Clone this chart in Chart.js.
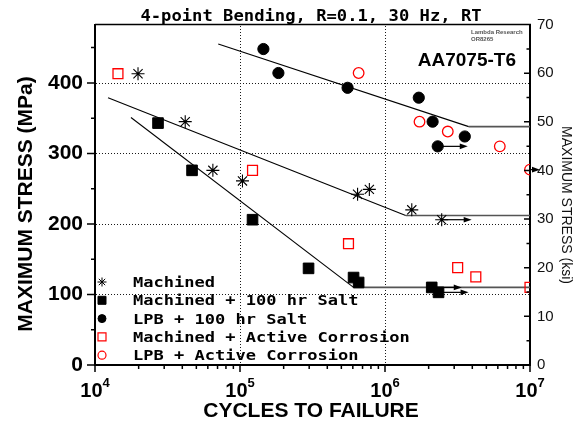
<!DOCTYPE html>
<html>
<head>
<meta charset="utf-8">
<script src="https://cdn.jsdelivr.net/npm/chart.js@4.4.1/dist/chart.umd.min.js"></script>
<style>
  html, body { margin: 0; padding: 0; background: #fff; }
</style>
</head>
<body>
<canvas id="chart" width="579" height="422"></canvas>
<script>
// cycles to failure (N) and max stress (MPa)
const machinedN = [1.98e4, 4.19e4, 6.5e4, 1.04e5, 6.47e5, 7.8e5, 1.53e6, 2.46e6];
const machinedS = [413, 345, 276, 261, 242, 249, 220, 206];
const machinedRunout = [0, 0, 0, 0, 0, 0, 0, 1];

const saltN = [2.72e4, 4.67e4, 1.22e5, 2.97e5, 6.07e5, 6.58e5, 2.1e6, 2.34e6];
const saltS = [343, 276, 206, 137, 124, 117, 110, 103];
const saltRunout = [0, 0, 0, 0, 0, 0, 1, 1];

const lpbSaltN = [1.45e5, 1.84e5, 5.52e5, 1.71e6, 2.13e6, 3.55e6, 2.31e6];
const lpbSaltS = [448, 414, 393, 379, 345, 324, 310];
const lpbSaltRunout = [0, 0, 0, 0, 0, 0, 1];

const corrN = [1.44e4, 1.22e5, 5.6e5, 3.17e6, 4.23e6, 1.0e7];
const corrS = [413, 276, 172, 138, 125, 110];

const lpbCorrN = [6.58e5, 1.73e6, 2.71e6, 6.19e6, 1.0e7];
const lpbCorrS = [414, 345, 331, 310, 277];
const lpbCorrRunout = [0, 0, 0, 0, 1];

// fitted trend lines (knee then flat endurance limit)
const lpbFitN = [7.08e4, 3.78e6, 1e7];
const lpbFitS = [455, 338, 338];
const machFitN = [1.23e4, 1.39e6, 1e7];
const machFitS = [379, 212, 212];
const saltFitN = [1.77e4, 6.07e5, 1e7];
const saltFitS = [351, 110, 110];

const xTickExp = [4, 5, 6, 7];
const gridMPa = [100, 200, 300, 400];
const gridN = [1e5, 1e6];
const ksiMax = 70;
const mpaMax = ksiMax * 6.894757;

const legendLabels = ['Machined', 'Machined + 100 hr Salt', 'LPB + 100 hr Salt',
  'Machined + Active Corrosion', 'LPB + Active Corrosion'];

function pts(xs, ys) {
  return xs.map((x, i) => ({ x: x, y: ys[i] }));
}

const RED = '#ff0000';
const sans = "'Liberation Sans', Arial, sans-serif";
const mono = "'DejaVu Sans Mono', monospace";

function drawMarker(ctx, style, r, fill, stroke, lw, x, y) {
  ctx.save();
  ctx.lineWidth = lw;
  ctx.strokeStyle = stroke;
  ctx.fillStyle = fill;
  ctx.setLineDash([]);
  ctx.beginPath();
  if (style === 'star') {
    for (let a = 0; a < 4; a++) {
      const t = a * Math.PI / 4;
      ctx.moveTo(x - r * Math.cos(t), y - r * Math.sin(t));
      ctx.lineTo(x + r * Math.cos(t), y + r * Math.sin(t));
    }
    ctx.stroke();
  } else if (style === 'rect') {
    ctx.rect(x - r, y - r, 2 * r, 2 * r);
    if (fill !== 'transparent') ctx.fill();
    ctx.stroke();
  } else {
    ctx.arc(x, y, r, 0, Math.PI * 2);
    if (fill !== 'transparent') ctx.fill();
    ctx.stroke();
  }
  ctx.restore();
}

function stretchText(ctx, text, x, y, font, sx) {
  ctx.save();
  ctx.font = font;
  ctx.translate(x, y);
  ctx.scale(sx, 1);
  ctx.fillText(text, 0, 0);
  ctx.restore();
}

const decor = {
  id: 'decor',
  beforeDatasetsDraw(chart) {
    const { ctx, chartArea: a, scales } = chart;
    ctx.save();
    // dotted grid, one pixel dots every 3 px
    ctx.fillStyle = '#1a1a1a';
    gridMPa.forEach(v => {
      const y = Math.round(scales.y.getPixelForValue(v));
      for (let x = Math.ceil(a.left) + 1; x < a.right - 1; x += 3) ctx.fillRect(x, y, 1, 1);
    });
    gridN.forEach(v => {
      const x = Math.round(scales.x.getPixelForValue(v));
      for (let y = Math.ceil(a.top) + 1; y < a.bottom - 1; y += 3) ctx.fillRect(x, y, 1, 1);
    });
    ctx.restore();
  },
  afterDatasetsDraw(chart) {
    const { ctx, chartArea: a } = chart;
    ctx.save();
    ctx.strokeStyle = '#000';
    ctx.fillStyle = '#000';
    ctx.lineWidth = 1.2;
    chart.data.datasets.forEach((ds, i) => {
      if (!ds.runout) return;
      const meta = chart.getDatasetMeta(i);
      ds.runout.forEach((f, j) => {
        if (!f) return;
        const el = meta.data[j];
        const x0 = el.x, y0 = el.y;
        const x1 = Math.min(x0 + 30, a.right + 10);
        ctx.beginPath();
        ctx.moveTo(x0, y0); ctx.lineTo(x1 - 5, y0);
        ctx.stroke();
        ctx.beginPath();
        ctx.moveTo(x1, y0); ctx.lineTo(x1 - 8, y0 - 2.8); ctx.lineTo(x1 - 8, y0 + 2.8);
        ctx.closePath();
        ctx.fill();
      });
    });
    ctx.restore();
  },
  afterDraw(chart) {
    const { ctx, chartArea: a, scales } = chart;
    const xs = scales.x, ys = scales.y, y2 = scales.y2;
    ctx.save();
    // top frame line
    ctx.strokeStyle = '#000';
    ctx.lineWidth = 1.5;
    ctx.beginPath();
    ctx.moveTo(a.left, a.top); ctx.lineTo(a.right + 1, a.top);
    ctx.stroke();

    // tick marks
    ctx.lineWidth = 1.5;
    ctx.beginPath();
    for (let v = 0; v <= 450; v += 50) {
      const y = ys.getPixelForValue(v);
      const len = v % 100 === 0 ? 8 : 4;
      ctx.moveTo(a.left - len, y); ctx.lineTo(a.left, y);
    }
    for (let v = 5; v < ksiMax; v += 5) {
      const y = y2.getPixelForValue(v);
      const len = v % 10 === 0 ? 6 : 3.5;
      ctx.moveTo(a.right - len, y); ctx.lineTo(a.right, y);
    }
    xTickExp.forEach(e => {
      for (let m = 1; m <= 9; m++) {
        const v = m * Math.pow(10, e);
        if (v > xs.max) break;
        const x = xs.getPixelForValue(v);
        const len = m === 1 ? 7 : 4;
        ctx.moveTo(x, a.bottom); ctx.lineTo(x, a.bottom + len);
      }
    });
    ctx.stroke();

    // x tick labels 10^n
    ctx.fillStyle = '#000';
    ctx.textBaseline = 'alphabetic';
    ctx.textAlign = 'left';
    xTickExp.forEach(e => {
      const x = xs.getPixelForValue(Math.pow(10, e));
      ctx.font = 'bold 20px ' + sans;
      const w1 = ctx.measureText('10').width;
      ctx.font = 'bold 13px ' + sans;
      const w2 = ctx.measureText(String(e)).width;
      const sx = x - (w1 + w2) / 2;
      ctx.font = 'bold 20px ' + sans;
      ctx.fillText('10', sx, 397);
      ctx.font = 'bold 13px ' + sans;
      ctx.fillText(String(e), sx + w1, 387);
    });

    // axis titles
    ctx.textAlign = 'center';
    ctx.textBaseline = 'middle';
    ctx.font = 'bold 21px ' + sans;
    ctx.fillText('CYCLES TO FAILURE', 311, 411);
    ctx.save();
    ctx.translate(26, 204);
    ctx.rotate(-Math.PI / 2);
    ctx.fillText('MAXIMUM STRESS (MPa)', 0, 0);
    ctx.restore();
    ctx.save();
    ctx.fillStyle = '#111';
    ctx.font = '14px ' + sans;
    ctx.translate(566, 205);
    ctx.rotate(Math.PI / 2);
    ctx.fillText('MAXIMUM STRESS (ksi)', 0, 0);
    ctx.restore();

    // title
    ctx.textAlign = 'left';
    ctx.textBaseline = 'alphabetic';
    ctx.fillStyle = '#000';
    const tFont = 'bold 15px ' + mono;
    ctx.font = tFont;
    const title = '4-point Bending, R=0.1, 30 Hz, RT';
    const tsx = 1.145;
    const tw = ctx.measureText(title).width * tsx;
    stretchText(ctx, title, 311 - tw / 2, 21, tFont, tsx);

    // material label and lab note
    ctx.textAlign = 'right';
    ctx.font = 'bold 19px ' + sans;
    ctx.fillText('AA7075-T6', 516, 66);
    ctx.textAlign = 'left';
    ctx.fillStyle = '#555';
    ctx.font = 'bold 6px ' + sans;
    ctx.fillText('Lambda Research', 471, 34);
    ctx.fillText('OR8265', 471, 41);

    // legend
    ctx.fillStyle = '#000';
    const lFont = 'bold 14px ' + mono;
    const markerStyles = [
      ['star', 4.5, '#000', '#000', 1],
      ['rect', 4, '#000', '#000', 1],
      ['circle', 4, '#000', '#000', 1],
      ['rect', 4, 'transparent', RED, 1.2],
      ['circle', 4, 'transparent', RED, 1.2]
    ];
    legendLabels.forEach((lab, i) => {
      const base = 287 + i * 18.3;
      const m = markerStyles[i];
      drawMarker(ctx, m[0], m[1], m[2], m[3], m[4], 102, base - 5);
      stretchText(ctx, lab, 133, base, lFont, 1.216);
    });
    ctx.restore();
  }
};

const fitSegment = {
  borderColor: c => c.p0.parsed.y === c.p1.parsed.y ? '#555' : '#000',
  borderWidth: c => c.p0.parsed.y === c.p1.parsed.y ? 1.6 : 1.1
};

function fitLine(xs, ys) {
  return {
    data: pts(xs, ys), showLine: true, pointRadius: 0, borderColor: '#000',
    borderWidth: 1.1, segment: fitSegment, order: 10
  };
}

new Chart(document.getElementById('chart'), {
  type: 'scatter',
  data: {
    datasets: [
      fitLine(lpbFitN, lpbFitS),
      fitLine(machFitN, machFitS),
      fitLine(saltFitN, saltFitS),
      { label: legendLabels[0], data: pts(machinedN, machinedS), runout: machinedRunout,
        pointStyle: 'star', pointRadius: 6.5, borderColor: '#000', backgroundColor: '#000', borderWidth: 1.1 },
      { label: legendLabels[1], data: pts(saltN, saltS), runout: saltRunout,
        pointStyle: 'rect', pointRadius: 7.5, borderColor: '#000', backgroundColor: '#000', borderWidth: 1 },
      { label: legendLabels[2], data: pts(lpbSaltN, lpbSaltS), runout: lpbSaltRunout,
        pointStyle: 'circle', pointRadius: 5.6, borderColor: '#000', backgroundColor: '#000', borderWidth: 1 },
      { label: legendLabels[3], data: pts(corrN, corrS),
        pointStyle: 'rect', pointRadius: 7, borderColor: RED, backgroundColor: 'transparent', borderWidth: 1.3 },
      { label: legendLabels[4], data: pts(lpbCorrN, lpbCorrS), runout: lpbCorrRunout,
        pointStyle: 'circle', pointRadius: 5.3, borderColor: RED, backgroundColor: 'transparent', borderWidth: 1.3 }
    ]
  },
  options: {
    responsive: false,
    animation: false,
    layout: { padding: { top: 24, left: 0, right: 0, bottom: 0 } },
    plugins: { legend: { display: false }, tooltip: { enabled: false } },
    scales: {
      x: {
        type: 'logarithmic', position: 'bottom', min: 1e4, max: 1e7,
        grid: { display: false, drawTicks: false },
        ticks: { display: false },
        border: { display: true, width: 2, color: '#000' },
        afterFit(s) { s.height = 57; }
      },
      y: {
        type: 'linear', position: 'left', min: 0, max: mpaMax,
        grid: { display: false, drawTicks: false },
        ticks: {
          stepSize: 50, autoSkip: false, padding: 12, color: '#000',
          font: { family: 'Liberation Sans', weight: 'bold', size: 21 },
          callback: v => (v % 100 === 0 ? String(v) : '')
        },
        border: { display: true, width: 2, color: '#000' },
        afterFit(s) { s.width = 95; }
      },
      y2: {
        type: 'linear', position: 'right', min: 0, max: ksiMax,
        grid: { display: false, drawTicks: false },
        ticks: {
          stepSize: 10, autoSkip: false, padding: 7, color: '#111',
          font: { family: 'Liberation Sans', size: 15 }
        },
        border: { display: true, width: 2, color: '#000' },
        afterFit(s) { s.width = 49; }
      }
    }
  },
  plugins: [decor]
});
</script>
</body>
</html>
